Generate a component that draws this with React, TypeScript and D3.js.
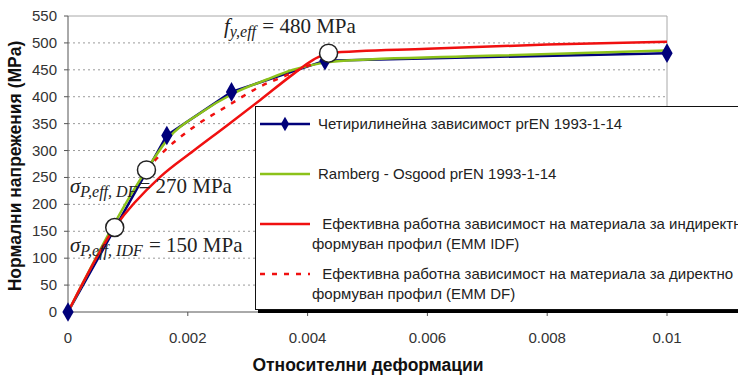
import { useRef, useEffect } from 'react';
import * as d3 from 'd3';

// strain / stress (MPa)
const fourLinear = [
  { e: 0, s: 0 },
  { e: 0.00165, s: 328 },
  { e: 0.00273, s: 409 },
  { e: 0.00429, s: 467 },
  { e: 0.01, s: 481 },
];

const rambergOsgood = [
  { e: 0, s: 0 },
  { e: 0.00131, s: 264 },
  { e: 0.0017, s: 326 },
  { e: 0.0022, s: 369 },
  { e: 0.00276, s: 406 },
  { e: 0.00332, s: 432 },
  { e: 0.00376, s: 450 },
  { e: 0.00421, s: 462 },
  { e: 0.0045, s: 466 },
  { e: 0.007, s: 476 },
  { e: 0.01, s: 486 },
];

const emmIdf = [
  { e: 0, s: 0 },
  { e: 0.00078, s: 157 },
  { e: 0.00154, s: 251 },
  { e: 0.00209, s: 299 },
  { e: 0.00265, s: 346 },
  { e: 0.00321, s: 394 },
  { e: 0.00376, s: 442 },
  { e: 0.0041, s: 469 },
  { e: 0.00435, s: 481 },
  { e: 0.006, s: 489 },
  { e: 0.008, s: 497 },
  { e: 0.01, s: 502 },
];

const emmDf = [
  { e: 0.00131, s: 264 },
  { e: 0.00154, s: 292 },
  { e: 0.00209, s: 343 },
  { e: 0.00265, s: 382 },
  { e: 0.00321, s: 419 },
  { e: 0.00365, s: 440 },
  { e: 0.0041, s: 462 },
];

const markers = [
  { e: 0.00078, s: 157 },
  { e: 0.00131, s: 264 },
  { e: 0.00435, s: 481 },
];

const xTicks = [0, 0.002, 0.004, 0.006, 0.008, 0.01];
const xTickLabels = ['0', '0.002', '0.004', '0.006', '0.008', '0.01'];
const yTicks = [0, 50, 100, 150, 200, 250, 300, 350, 400, 450, 500, 550];

const legendItems = [
  { lines: ['Четирилинейна зависимост prEN 1993-1-14'], color: '#00007a', dash: null, diamond: true },
  { lines: ['Ramberg - Osgood prEN 1993-1-14'], color: '#8cc21a', dash: null, diamond: false },
  { lines: [' Ефективна работна зависимост на материала за индиректно', 'формуван профил (EMM IDF)'], color: '#f01010', dash: null, diamond: false },
  { lines: [' Ефективна работна зависимост на материала за директно', 'формуван профил (EMM DF)'], color: '#f01010', dash: '5,7', diamond: false },
];

export default function App() {
  const svgRef = useRef<SVGSVGElement>(null);

  useEffect(() => {
    if (!svgRef.current) return;
    const svg = d3.select(svgRef.current);
    svg.selectAll('*').remove();

    const width = 738;
    const height = 375;
    const left = 68, right = 667, top = 16, bottom = 312;

    const x = d3.scaleLinear().domain([0, 0.01]).range([left, right]);
    const y = d3.scaleLinear().domain([0, 550]).range([bottom, top]);

    svg.attr('width', width).attr('height', height);
    svg.append('rect').attr('width', width).attr('height', height).attr('fill', '#fff');

    // Grid
    yTicks.filter((t) => t > 0 && t < 550).forEach((t) => {
      svg.append('line')
        .attr('x1', left).attr('x2', right)
        .attr('y1', y(t)).attr('y2', y(t))
        .attr('stroke', '#9a9a9a').attr('stroke-width', 1)
        .attr('stroke-dasharray', '2,3');
    });

    // plot frame
    svg.append('line').attr('x1', left).attr('x2', right).attr('y1', top).attr('y2', top)
      .attr('stroke', '#a8a8a8');
    svg.append('line').attr('x1', right).attr('x2', right).attr('y1', top).attr('y2', bottom)
      .attr('stroke', '#a8a8a8');

    // Axes
    const fontAx = 'Liberation Sans, Arial, sans-serif';
    svg.append('line').attr('x1', left).attr('x2', left).attr('y1', top).attr('y2', bottom)
      .attr('stroke', '#555');
    svg.append('line').attr('x1', left).attr('x2', right).attr('y1', bottom).attr('y2', bottom)
      .attr('stroke', '#555');
    yTicks.forEach((t) => {
      svg.append('line').attr('x1', left - 4).attr('x2', left).attr('y1', y(t)).attr('y2', y(t))
        .attr('stroke', '#555');
      svg.append('text')
        .attr('x', 57).attr('y', y(t) + 5)
        .attr('text-anchor', 'end')
        .attr('fill', '#333').style('font-family', fontAx).style('font-size', '15px')
        .text(String(t));
    });
    xTicks.forEach((t, i) => {
      svg.append('line').attr('x1', x(t)).attr('x2', x(t)).attr('y1', bottom).attr('y2', bottom + 4)
        .attr('stroke', '#555');
      svg.append('text')
        .attr('x', x(t)).attr('y', 343)
        .attr('text-anchor', 'middle')
        .attr('fill', '#333').style('font-family', fontAx).style('font-size', '15px')
        .text(xTickLabels[i]);
    });

    // Axis titles
    svg.append('text')
      .attr('x', 368).attr('y', 371)
      .attr('text-anchor', 'middle')
      .attr('fill', '#111').style('font-family', fontAx).style('font-size', '17.5px').style('font-weight', 'bold')
      .text('Относителни деформации');
    svg.append('text')
      .attr('transform', `translate(21, ${(top + bottom) / 2 + 2}) rotate(-90)`)
      .attr('text-anchor', 'middle')
      .attr('fill', '#111').style('font-family', fontAx).style('font-size', '17.5px').style('font-weight', 'bold')
      .text('Нормални напрежения (MPa)');

    const line = d3.line<{ e: number; s: number }>()
      .x((d) => x(d.e)).y((d) => y(d.s));
    const smooth = d3.line<{ e: number; s: number }>()
      .x((d) => x(d.e)).y((d) => y(d.s)).curve(d3.curveMonotoneX);

    // Series
    svg.append('path').datum(fourLinear).attr('d', line)
      .attr('fill', 'none').attr('stroke', '#00007a').attr('stroke-width', 2.5);
    svg.append('path').datum(rambergOsgood).attr('d', smooth)
      .attr('fill', 'none').attr('stroke', '#8cc21a').attr('stroke-width', 2.5);
    svg.append('path').datum(emmDf).attr('d', smooth)
      .attr('fill', 'none').attr('stroke', '#f01010').attr('stroke-width', 2.5)
      .attr('stroke-dasharray', '5,7');
    svg.append('path').datum(emmIdf).attr('d', smooth)
      .attr('fill', 'none').attr('stroke', '#f01010').attr('stroke-width', 2.5);

    const diamond = d3.symbol().type(d3.symbolDiamond).size(110);
    fourLinear.forEach((d) => {
      svg.append('path').attr('d', diamond)
        .attr('transform', `translate(${x(d.e)},${y(d.s)})`)
        .attr('fill', '#00007a');
    });

    markers.forEach((d) => {
      svg.append('circle').attr('cx', x(d.e)).attr('cy', y(d.s)).attr('r', 9)
        .attr('fill', '#fff').attr('stroke', '#222').attr('stroke-width', 1.5);
    });

    // Annotations
    const serif = 'Liberation Serif, Times New Roman, serif';
    const annot = (ax: number, ay: number, sym: string, sub: string, rest: string) => {
      const t = svg.append('text').attr('x', ax).attr('y', ay)
        .attr('fill', '#222').style('font-family', serif).style('font-size', '21px');
      t.append('tspan').style('font-style', 'italic').text(sym);
      t.append('tspan').style('font-style', 'italic').style('font-size', '16px').attr('dy', 4).text(sub);
      t.append('tspan').attr('dy', -4).attr('dx', 1).text(rest);
    };
    annot(224, 33, 'f', 'y,eff', ' = 480 MPa');
    annot(70, 193, 'σ', 'P,eff, DF', '= 270 MPa');
    annot(70, 252, 'σ', 'P,eff, IDF', ' = 150 MPa');

    // Legend
    const lg = svg.append('g');
    lg.append('rect').attr('x', 258).attr('y', 109).attr('width', 500).attr('height', 204)
      .attr('fill', '#000');
    lg.append('rect').attr('x', 255.5).attr('y', 106.5).attr('width', 500).attr('height', 203)
      .attr('fill', '#fff').attr('stroke', '#111').attr('stroke-width', 1);
    legendItems.forEach((item, i) => {
      const ly = 124 + i * 50;
      lg.append('line').attr('x1', 260).attr('x2', 310).attr('y1', ly).attr('y2', ly)
        .attr('stroke', item.color).attr('stroke-width', 2.5)
        .attr('stroke-dasharray', item.dash ?? null);
      if (item.diamond) {
        lg.append('path').attr('d', d3.symbol().type(d3.symbolDiamond).size(60))
          .attr('transform', `translate(285,${ly})`).attr('fill', item.color);
      }
      item.lines.forEach((txt, j) => {
        lg.append('text')
          .attr('x', j === 0 ? 318 : 312).attr('y', ly + 5 + j * 20)
          .attr('fill', '#222').style('font-family', fontAx).style('font-size', '15px')
          .style('white-space', 'pre')
          .text(txt);
      });
    });
  }, []);

  return (
    <svg ref={svgRef} style={{ position: 'absolute', left: 0, top: 0, display: 'block' }} />
  );
}
